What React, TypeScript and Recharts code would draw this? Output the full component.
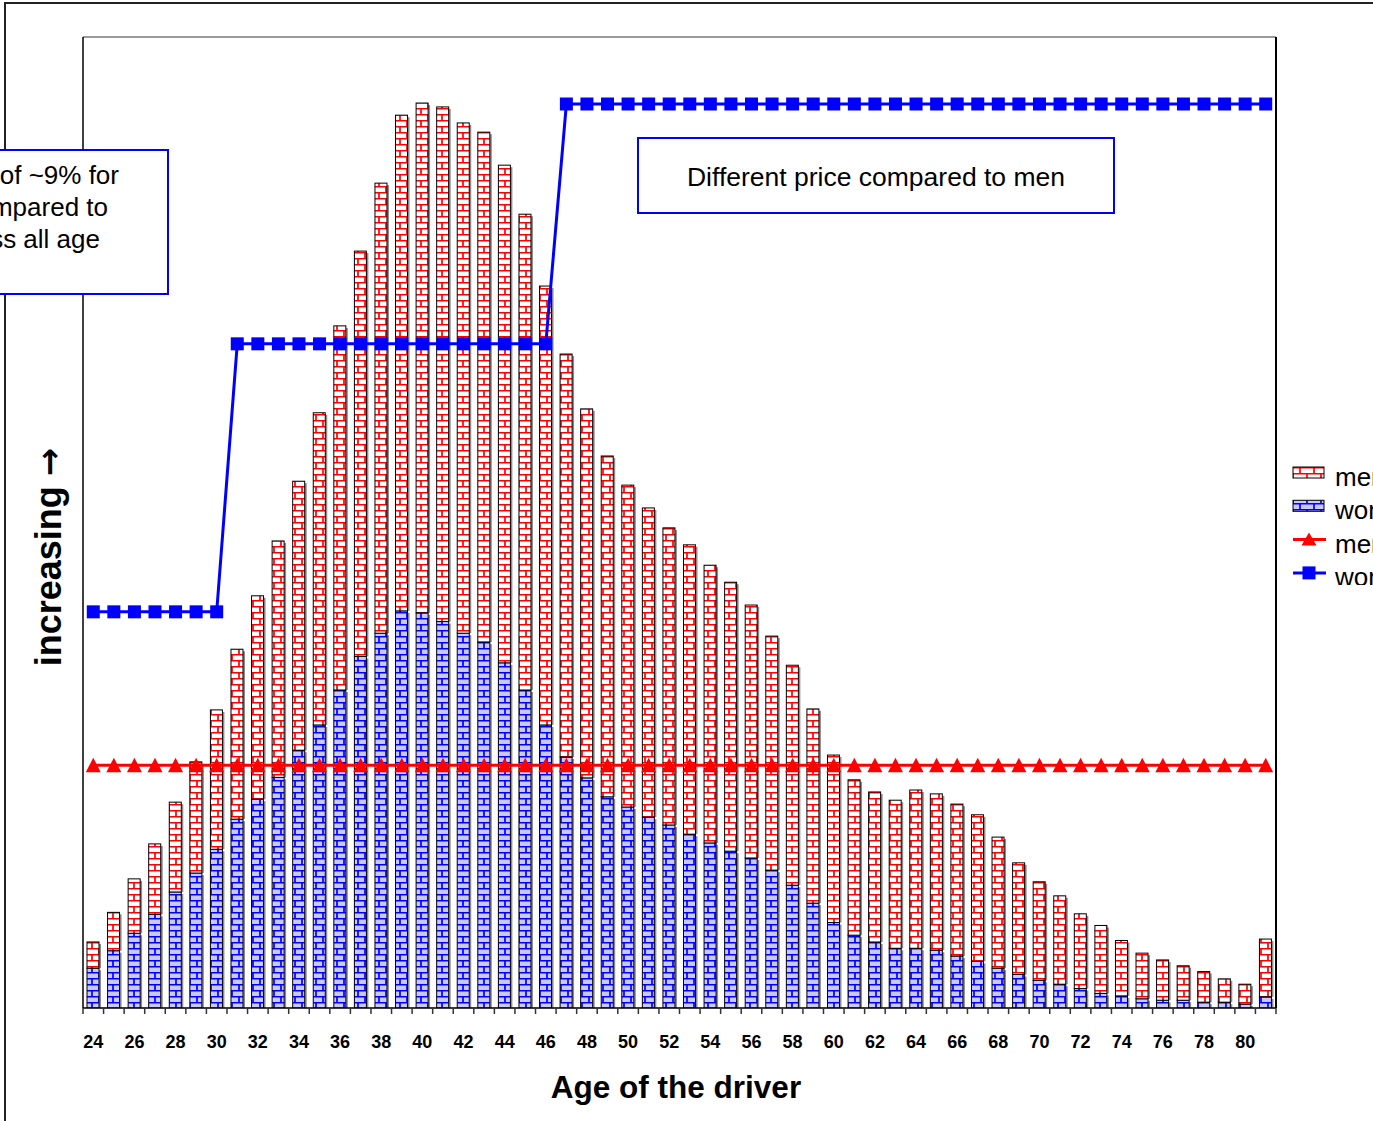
// Drivers by age (stacked bars) and price level for men / women (lines)
import React from 'react'
import { ComposedChart, Bar, Line, XAxis, YAxis, CartesianGrid, ReferenceLine } from 'recharts'

const ages = [
  24, 25, 26, 27, 28, 29, 30, 31, 32, 33, 34, 35, 36, 37, 38, 39, 40, 41, 42, 43,
  44, 45, 46, 47, 48, 49, 50, 51, 52, 53, 54, 55, 56, 57, 58, 59, 60, 61, 62, 63,
  64, 65, 66, 67, 68, 69, 70, 71, 72, 73, 74, 75, 76, 77, 78, 79, 80, 81,
]

// women drivers (lower, blue part of each bar)
const womenDrivers = [
  0.82, 1.18, 1.54, 1.93, 2.39, 2.78, 3.27, 3.89, 4.30, 4.75, 5.31, 5.83, 6.55, 7.24, 7.72, 8.18, 8.14, 7.96, 7.72, 7.54,
  7.11, 6.55, 5.83, 5.17, 4.74, 4.35, 4.14, 3.93, 3.77, 3.58, 3.40, 3.23, 3.09, 2.84, 2.53, 2.16, 1.76, 1.50, 1.36, 1.23,
  1.23, 1.19, 1.07, 0.96, 0.82, 0.69, 0.57, 0.49, 0.40, 0.30, 0.25, 0.19, 0.16, 0.16, 0.12, 0.12, 0.08, 0.23,
]

// men drivers (upper, red part of each bar)
const menDrivers = [
  0.54, 0.79, 1.12, 1.45, 1.85, 2.29, 2.87, 3.50, 4.19, 4.87, 5.54, 6.43, 7.50, 8.35, 9.27, 10.21, 10.50, 10.60, 10.51, 10.50,
  10.25, 9.80, 9.04, 8.30, 7.60, 7.02, 6.63, 6.37, 6.12, 5.96, 5.72, 5.54, 5.21, 4.82, 4.53, 4.00, 3.45, 3.20, 3.09, 3.05,
  3.26, 3.22, 3.13, 3.02, 2.70, 2.30, 2.03, 1.82, 1.54, 1.40, 1.14, 0.94, 0.83, 0.71, 0.63, 0.48, 0.41, 1.19,
]

// price level, men
const menPrice = [
  5.0, 5.0, 5.0, 5.0, 5.0, 5.0, 5.0, 5.0, 5.0, 5.0, 5.0, 5.0, 5.0, 5.0, 5.0, 5.0, 5.0, 5.0, 5.0, 5.0,
  5.0, 5.0, 5.0, 5.0, 5.0, 5.0, 5.0, 5.0, 5.0, 5.0, 5.0, 5.0, 5.0, 5.0, 5.0, 5.0, 5.0, 5.0, 5.0, 5.0,
  5.0, 5.0, 5.0, 5.0, 5.0, 5.0, 5.0, 5.0, 5.0, 5.0, 5.0, 5.0, 5.0, 5.0, 5.0, 5.0, 5.0, 5.0,
]

// price level, women
const womenPrice = [
  8.16, 8.16, 8.16, 8.16, 8.16, 8.16, 8.16, 13.68, 13.68, 13.68, 13.68, 13.68, 13.68, 13.68, 13.68, 13.68, 13.68, 13.68, 13.68, 13.68,
  13.68, 13.68, 13.68, 18.62, 18.62, 18.62, 18.62, 18.62, 18.62, 18.62, 18.62, 18.62, 18.62, 18.62, 18.62, 18.62, 18.62, 18.62, 18.62, 18.62,
  18.62, 18.62, 18.62, 18.62, 18.62, 18.62, 18.62, 18.62, 18.62, 18.62, 18.62, 18.62, 18.62, 18.62, 18.62, 18.62, 18.62, 18.62,
]

const yTicks = [0, 1, 2, 3, 4, 5, 6, 7, 8, 9, 10, 11, 12, 13, 14, 15, 16, 17, 18, 19, 20]

const legendItems = [
  { label: 'men', kind: 'bar', fill: 'url(#brickMen)' },
  { label: 'women', kind: 'bar', fill: 'url(#brickWomen)' },
  { label: 'men', kind: 'tri', fill: '#ff0000' },
  { label: 'women', kind: 'sq', fill: '#0000ff' },
]

const FONT = '"Liberation Sans", Arial, sans-serif'
const PLOT_LEFT = 83
const PLOT_RIGHT = 1276
const BAND = (PLOT_RIGHT - PLOT_LEFT) / ages.length

const data = ages.map((age, i) => ({
  age,
  women: womenDrivers[i],
  men: menDrivers[i],
  menPrice: menPrice[i],
  womenPrice: womenPrice[i],
}))

function BrickBar(props: any) {
  const { x, y, width, height, fill } = props
  if (!height || height <= 0) return <g />
  return (
    <g>
      <rect x={x + width} y={y + 2} width={2} height={Math.max(height - 2, 0)} fill="#8a8a8a" />
      <rect x={x} y={y} width={width} height={height} fill={fill} stroke="#000" strokeWidth={1} />
    </g>
  )
}

function AgeTick(props: any) {
  const { x, y, payload, index } = props
  const age = payload.value
  const left = x - BAND / 2
  return (
    <g>
      <line x1={left} x2={left} y1={y - 6} y2={y} stroke="#333" strokeWidth={1.5} />
      {index === ages.length - 1 && (
        <line x1={x + BAND / 2} x2={x + BAND / 2} y1={y - 6} y2={y} stroke="#333" strokeWidth={1.5} />
      )}
      {age % 2 === 0 && (
        <text x={x} y={y + 34} textAnchor="middle" fontFamily={FONT} fontWeight="bold" fontSize={18} fill="#000">
          {age}
        </text>
      )}
    </g>
  )
}

function Triangle(props: any) {
  const { cx, cy, index } = props
  return <path key={`t${index}`} d={`M${cx} ${cy - 7.5}L${cx + 7.5} ${cy + 7}L${cx - 7.5} ${cy + 7}Z`} fill="#ff0000" />
}

function Square(props: any) {
  const { cx, cy, index } = props
  return <rect key={`s${index}`} x={cx - 6.5} y={cy - 6.5} width={13} height={13} fill="#0000ff" />
}

function Patterns() {
  return (
    <svg width={0} height={0} style={{ position: 'absolute' }}>
      <defs>
        <pattern id="brickMen" width="14" height="12" patternUnits="userSpaceOnUse">
          <rect width="14" height="12" fill="#ffffff" />
          <path d="M0 0.75H14M0 6.75H14M1 0V6.75M8 6.75V12" stroke="#ff0000" strokeWidth="1.7" />
        </pattern>
        <pattern id="brickWomen" width="14" height="12" patternUnits="userSpaceOnUse">
          <rect width="14" height="12" fill="#c8c8ff" />
          <path d="M0 0.75H14M0 6.75H14M1 0V6.75M8 6.75V12" stroke="#0000ff" strokeWidth="1.7" />
        </pattern>
      </defs>
    </svg>
  )
}

function Legend() {
  return (
    <svg width={90} height={130} style={{ position: 'absolute', left: 1285, top: 455 }}>
      {legendItems.map((it, i) => {
        const cy = 18 + i * 33.3
        return (
          <g key={i}>
            {it.kind === 'bar' && (
              <rect x={8} y={cy - 6} width={31} height={11} fill={it.fill} stroke="#000" strokeWidth={1} />
            )}
            {it.kind !== 'bar' && <line x1={8} x2={41} y1={cy} y2={cy} stroke={it.fill} strokeWidth={3} />}
            {it.kind === 'tri' && (
              <path d={`M24 ${cy - 7}L31.5 ${cy + 6}L16.5 ${cy + 6}Z`} fill={it.fill} />
            )}
            {it.kind === 'sq' && <rect x={17.5} y={cy - 6.5} width={13} height={13} fill={it.fill} />}
            <text x={50} y={cy + 13} fontFamily={FONT} fontSize={26} fill="#000">
              {it.label}
            </text>
          </g>
        )
      })}
    </svg>
  )
}

const boxStyle: React.CSSProperties = {
  position: 'absolute',
  border: '2px solid #0000ff',
  background: '#ffffff',
  fontFamily: FONT,
  fontSize: 26,
  color: '#000',
  boxSizing: 'border-box',
  overflow: 'hidden',
}

const lineStyle: React.CSSProperties = { position: 'absolute', whiteSpace: 'nowrap', lineHeight: '32px' }

export default function App() {
  return (
    <div
      style={{
        position: 'absolute',
        left: 0,
        top: 0,
        width: 1373,
        height: 1121,
        overflow: 'hidden',
        background: '#fff',
        fontFamily: FONT,
      }}
    >
      <Patterns />
      <div
        style={{
          position: 'absolute',
          left: 4,
          top: 2,
          width: 1400,
          height: 1200,
          borderLeft: '2px solid #222',
          borderTop: '2px solid #222',
        }}
      />
      <div style={{ position: 'absolute', left: 0, top: 0 }}>
        <ComposedChart
          width={1373}
          height={1121}
          data={data}
          margin={{ top: 37, right: 96, left: 73, bottom: 83 }}
          barCategoryGap={0}
        >
          <CartesianGrid horizontal vertical={false} stroke="#e2e2e2" strokeWidth={1.5} />
          <XAxis
            dataKey="age"
            interval={0}
            tickLine={false}
            tickSize={6}
            tickMargin={0}
            height={30}
            axisLine={{ stroke: '#000', strokeWidth: 1.5 }}
            tick={(p: any) => <AgeTick {...p} />}
          />
          <YAxis
            domain={[0, 20]}
            ticks={yTicks}
            tick={false}
            tickSize={6}
            width={10}
            allowDataOverflow
            axisLine={{ stroke: '#000', strokeWidth: 1.5 }}
            tickLine={{ stroke: '#555', strokeWidth: 1.5 }}
          />
          <YAxis
            yAxisId="r"
            orientation="right"
            domain={[0, 20]}
            tick={false}
            tickLine={false}
            width={1}
            axisLine={{ stroke: '#000', strokeWidth: 2 }}
          />
          <ReferenceLine y={20} stroke="#9a9a9a" strokeWidth={2} />
          <Bar dataKey="women" stackId="a" fill="url(#brickWomen)" barSize={12} shape={BrickBar} isAnimationActive={false} />
          <Bar dataKey="men" stackId="a" fill="url(#brickMen)" barSize={12} shape={BrickBar} isAnimationActive={false} />
          <Line
            dataKey="menPrice"
            stroke="#ff0000"
            strokeWidth={3}
            dot={(p: any) => <Triangle key={`t${p.index}`} {...p} />}
            isAnimationActive={false}
          />
          <Line
            dataKey="womenPrice"
            stroke="#0000ff"
            strokeWidth={3}
            dot={(p: any) => <Square key={`s${p.index}`} {...p} />}
            isAnimationActive={false}
          />
        </ComposedChart>
      </div>

      <div style={{ ...boxStyle, left: -160, top: 149, width: 329, height: 146 }}>
        <div style={{ ...lineStyle, right: 48, top: 8 }}>A discount of ~9% for</div>
        <div style={{ ...lineStyle, right: 59, top: 40 }}>women compared to</div>
        <div style={{ ...lineStyle, right: 67, top: 72 }}>men across all age</div>
      </div>

      <div
        style={{
          ...boxStyle,
          left: 637,
          top: 137,
          width: 478,
          height: 77,
          fontSize: 26.5,
          paddingTop: 3,
          display: 'flex',
          alignItems: 'center',
          justifyContent: 'center',
        }}
      >
        Different price compared to men
      </div>

      <Legend />

      <div
        style={{
          position: 'absolute',
          left: 49,
          top: 557,
          transform: 'translate(-50%, -50%) rotate(-90deg)',
          whiteSpace: 'nowrap',
          fontWeight: 'bold',
          fontSize: 36,
          lineHeight: '40px',
        }}
      >
        increasing <span style={{ fontFamily: '"DejaVu Sans", sans-serif', fontWeight: 'bold', fontSize: 34 }}>→</span>
      </div>
      <div
        style={{
          position: 'absolute',
          left: 676,
          top: 1087,
          transform: 'translate(-50%, -50%)',
          whiteSpace: 'nowrap',
          fontWeight: 'bold',
          fontSize: 31.5,
          lineHeight: '36px',
        }}
      >
        Age of the driver
      </div>
    </div>
  )
}
